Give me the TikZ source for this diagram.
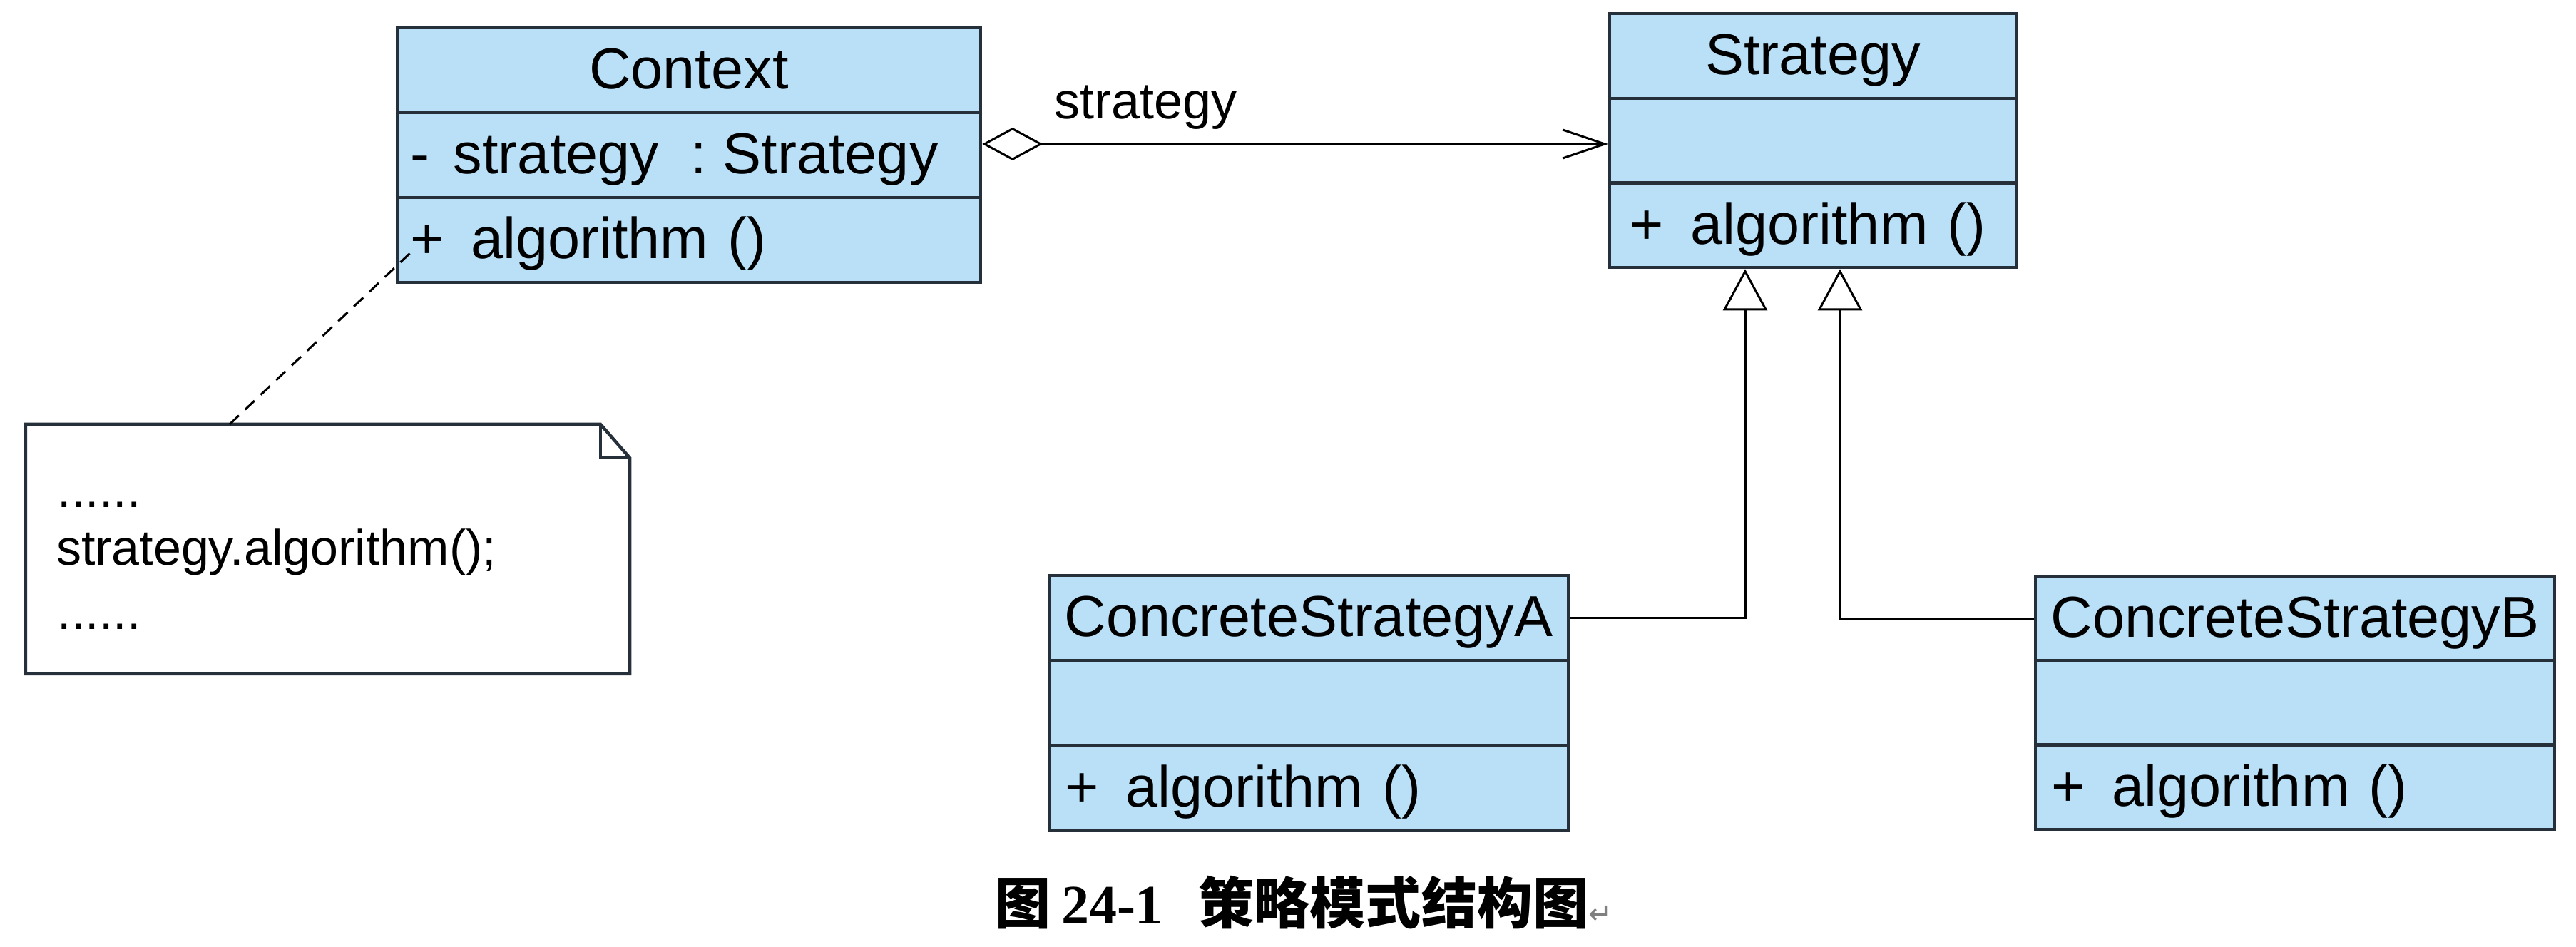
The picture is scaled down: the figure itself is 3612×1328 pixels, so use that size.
\documentclass[tikz,border=0pt]{standalone}
\usepackage{fontspec}
\setmainfont{Liberation Sans}
\newfontfamily\cjk{Noto Sans CJK SC}
\newfontfamily\tnr{Liberation Serif}
\newfontfamily\dejavu{DejaVu Sans}
\usetikzlibrary{arrows.meta,calc}
\definecolor{boxfill}{RGB}{185,224,247}
\definecolor{boxline}{RGB}{38,48,58}
\begin{document}
\begin{tikzpicture}[x=0.2pt,y=-0.2pt,
  umlbox/.style={rectangle, draw=boxline, fill=boxfill, line width=0.9pt, inner ysep=0pt,
    text height=10.5pt, text depth=0pt, font=\fontsize{16.2pt}{19pt}\selectfont},
  cname/.style={umlbox, inner xsep=0pt},
  cmember/.style={umlbox, align=left},
  conn/.style={line width=0.6pt, draw=black},
  agg/.style={conn, {Diamond[open, length=17pt, width=9.2pt]}-{Straight Barb[length=11.8pt, width=8pt]}},
  inh/.style={conn, -{Triangle[open, length=11.6pt, width=12.4pt]}},
  notelink/.style={conn, dash pattern=on 3.6pt off 2.4pt},
  notebox/.style={draw=boxline, line width=0.9pt, fill=white},
  notetxt/.style={anchor=base west, inner sep=0pt, font=\fontsize{14pt}{17pt}\selectfont},
  lbl/.style={anchor=base west, inner sep=0pt, font=\fontsize{14.4pt}{17pt}\selectfont}
]
\useasboundingbox (0,0) rectangle (3612,1328);

% Context
\node[cname, minimum width=163.6pt, minimum height=23.8pt] (ctxname) at (966,98.5) {Context};
\node[cmember, inner xsep=3.6pt, text width=156.4pt, minimum height=23.8pt] (ctxattr) at (966,217.5)
  {-\hspace{0.42em}strategy\hspace{0.55em}:\hspace{0.28em}Strategy};
\node[cmember, inner xsep=3.6pt, text width=156.4pt, minimum height=23.8pt] (ctxop) at (966,336.5)
  {+\hspace{0.47em}algorithm ()};

% Strategy
\node[cname, minimum width=114pt, minimum height=23.73pt] (strname) at (2542,78.5) {Strategy};
\node[cmember, inner xsep=5.6pt, text width=102.8pt, minimum height=23.73pt] (strattr) at (2542,197.3) {};
\node[cmember, inner xsep=5.6pt, text width=102.8pt, minimum height=23.73pt] (strop) at (2542,315.8)
  {+\hspace{0.47em}algorithm ()};

% ConcreteStrategyA
\node[cname, minimum width=145.6pt, minimum height=23.87pt] (csaname) at (1835,866.7) {ConcreteStrategyA};
\node[cmember, inner xsep=4.4pt, text width=136.8pt, minimum height=23.87pt] (csaattr) at (1835,986) {};
\node[cmember, inner xsep=4.4pt, text width=136.8pt, minimum height=23.87pt] (csaop) at (1835,1105.3)
  {+\hspace{0.47em}algorithm ()};

% ConcreteStrategyB
\node[cname, minimum width=145.6pt, minimum height=23.67pt] (csbname) at (3218,867.2) {ConcreteStrategyB};
\node[cmember, inner xsep=4.4pt, text width=136.8pt, minimum height=23.67pt] (csbattr) at (3218,985.5) {};
\node[cmember, inner xsep=4.4pt, text width=136.8pt, minimum height=23.67pt] (csbop) at (3218,1103.8)
  {+\hspace{0.47em}algorithm ()};

% Note
\node[rectangle, inner sep=0pt, minimum width=169pt, minimum height=69.6pt] (note) at (459.5,770) {};
\draw[notebox] (note.north west) -- ([xshift=-8.2pt]note.north east) -- ([yshift=-9.4pt]note.north east)
  -- (note.south east) -- (note.south west) -- cycle;
\draw[notebox, fill=none] ([xshift=-8.2pt]note.north east) -- ([xshift=-8.2pt,yshift=-9.4pt]note.north east)
  -- ([yshift=-9.4pt]note.north east);
\node[notetxt] (n1) at (80,712) {......};
\node[notetxt] (n2) at (78,793) {strategy.algorithm();};
\node[notetxt] (n3) at (80,883) {......};

% connectors
\coordinate (aggy) at (0,202);
\draw[agg] (ctxattr.east |- aggy) -- (strattr.west |- aggy);
\node[lbl] (agglbl) at (1477,167) {strategy};

\draw[inh] (csaname.east) -| ([xshift=-19pt]strop.south);
\draw[inh] (csbname.west) -| ([xshift=7.6pt]strop.south);

\coordinate (ctxlink) at (575,355);
\draw[notelink] ([xshift=57.2pt]note.north west) -- (ctxlink);

% caption
\node[anchor=base west, inner sep=0pt, font=\fontsize{15.6pt}{18pt}\selectfont] (cap) at (1394,1296)
  {{\cjk\bfseries 图}\hspace{3pt}{\tnr\bfseries 24-1}\hspace{10pt}{\cjk\bfseries 策略模式结构图}{\dejavu\color{gray}\fontsize{8pt}{8pt}\selectfont ↵}};
\end{tikzpicture}
\end{document}
